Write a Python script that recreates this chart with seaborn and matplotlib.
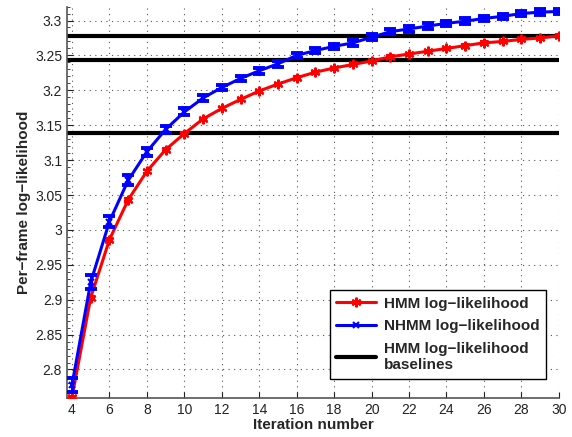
import matplotlib
matplotlib.use("Agg")
import matplotlib.pyplot as plt
from matplotlib.ticker import MultipleLocator
import seaborn as sns
import numpy as np
import pandas as pd

iterations = list(range(4, 31))
hmm_ll = [2.760, 2.903, 2.986, 3.043, 3.084, 3.115, 3.138, 3.159, 3.174, 3.187,
          3.199, 3.209, 3.218, 3.226, 3.232, 3.237, 3.242, 3.248, 3.252, 3.256,
          3.260, 3.264, 3.268, 3.270, 3.273, 3.275, 3.278]
hmm_err = [0.002] * 27
nhmm_ll = [2.778, 2.925, 3.012, 3.071, 3.112, 3.144, 3.169, 3.189, 3.204, 3.217,
           3.228, 3.238, 3.250, 3.257, 3.263, 3.268, 3.276, 3.284, 3.288, 3.292,
           3.296, 3.299, 3.303, 3.306, 3.310, 3.312, 3.313]
nhmm_err = [0.010, 0.010, 0.008, 0.007, 0.006, 0.005, 0.005, 0.004, 0.004, 0.004,
            0.004, 0.004, 0.004, 0.004, 0.004, 0.004, 0.004, 0.004, 0.004, 0.004,
            0.004, 0.004, 0.004, 0.004, 0.004, 0.004, 0.004]
baselines = [3.278, 3.243, 3.139]

sns.set_style("white")
plt.rcParams["font.family"] = ["Liberation Sans", "DejaVu Sans"]

df = pd.DataFrame({"Iteration": iterations, "HMM": hmm_ll, "NHMM": nhmm_ll})

fig = plt.figure(figsize=(5.72, 4.37), dpi=100)
ax = fig.add_axes([0.117, 0.089, 0.86, 0.896])

star = (6, 2, 0)
sns.lineplot(data=df, x="Iteration", y="HMM", ax=ax, color="red", lw=2.2,
             marker=star, markersize=7, markeredgewidth=1.5, markeredgecolor="red",
             label="HMM log\u2212likelihood", zorder=3)
ax.errorbar(iterations, hmm_ll, yerr=hmm_err, fmt="none", ecolor="red",
            elinewidth=1.5, capsize=3, capthick=1.5, zorder=3)
sns.lineplot(data=df, x="Iteration", y="NHMM", ax=ax, color="blue", lw=2.2,
             marker="x", markersize=5, markeredgewidth=1.5, markeredgecolor="blue",
             label="NHMM log\u2212likelihood", zorder=4)
ax.errorbar(iterations, nhmm_ll, yerr=nhmm_err, fmt="none", ecolor="blue",
            elinewidth=2.2, capsize=4.5, capthick=2.8, zorder=4)

for i, b in enumerate(baselines):
    ax.axhline(b, color="black", lw=3, zorder=2,
               label="HMM log\u2212likelihood\nbaselines" if i == 0 else None)

ax.set_xlim(3.73, 30)
ax.set_ylim(2.759, 3.32)
ax.xaxis.set_major_locator(MultipleLocator(2))
ax.yaxis.set_minor_locator(MultipleLocator(0.01))
ax.set_yticks(np.arange(2.8, 3.31, 0.05))
ax.set_yticklabels(["2.8", "2.85", "2.9", "2.95", "3", "3.05", "3.1", "3.15",
                    "3.2", "3.25", "3.3"])
ax.tick_params(axis="both", which="both", direction="in", labelsize=10,
               colors="#222222", left=True, bottom=True)
ax.tick_params(axis="both", which="major", length=4)
ax.tick_params(axis="y", which="minor", length=2)
ax.grid(True, which="major", linestyle=(0, (1, 4)), color="#555555", lw=0.8)

for s in ["top", "right"]:
    ax.spines[s].set_visible(False)
for s in ["left", "bottom"]:
    ax.spines[s].set_color("#555555")
    ax.spines[s].set_linewidth(1.2)

ax.set_xlabel("Iteration number", fontsize=11, fontweight="bold", labelpad=1)
ax.set_ylabel("Per\u2212frame log\u2212likelihood", fontsize=11, fontweight="bold", labelpad=3)

leg = ax.legend(loc="lower right", bbox_to_anchor=(0.99, 0.03), frameon=True,
                fancybox=False, edgecolor="black", framealpha=1,
                prop={"weight": "bold", "size": 11}, handlelength=2.6,
                handletextpad=0.5, borderpad=0.45, labelspacing=0.55)
leg.get_frame().set_linewidth(1.0)

fig.savefig("out.png", dpi=100)
plt.close(fig)
